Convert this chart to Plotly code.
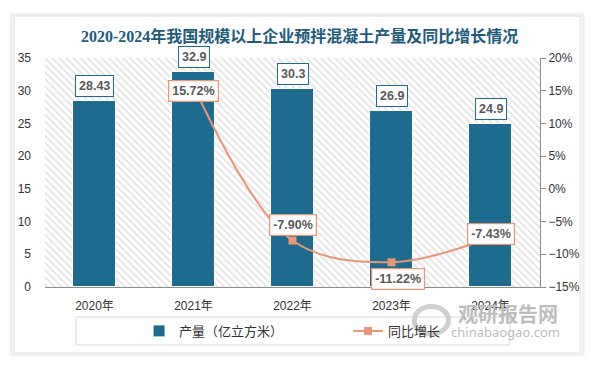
import plotly.graph_objects as go

years = ["2020年", "2021年", "2022年", "2023年", "2024年"]
output = [28.43, 32.9, 30.3, 26.9, 24.9]
growth = [None, 15.72, -7.90, -11.22, -7.43]
output_labels = ["28.43", "32.9", "30.3", "26.9", "24.9"]
growth_labels = [None, "15.72%", "-7.90%", "-11.22%", "-7.43%"]

title = "2020-2024年我国规模以上企业预拌混凝土产量及同比增长情况"
bar_name = "产量（亿立方米）"
line_name = "同比增长"

BAR = "#1D6B8E"
LINE = "#E8967A"
TXT = "#333333"
LBL = "#595959"
FONT = "Liberation Sans, Noto Sans CJK SC, sans-serif"

fig = go.Figure()

# hatched plot-area background
fig.add_trace(go.Bar(
    x=[years[2]], y=[35], width=[5], showlegend=False, hoverinfo="skip",
    marker=dict(color="white", line=dict(width=0),
                pattern=dict(shape="\\", fgcolor="#c2c2c2", bgcolor="white",
                             size=5, solidity=0.3)),
))

fig.add_trace(go.Bar(
    x=years, y=output, name=bar_name, width=0.43,
    marker=dict(color=BAR, line=dict(color="white", width=1)),
))

fig.add_trace(go.Scatter(
    x=years, y=growth, name=line_name, yaxis="y2",
    mode="lines+markers",
    line=dict(color=LINE, width=2, shape="spline", smoothing=1.0),
    marker=dict(symbol="square", size=8, color=LINE),
))

annotations = []
for x, v, t in zip(years, output, output_labels):
    annotations.append(dict(
        x=x, y=v, xref="x", yref="y", text=f"<b>{t}</b>", showarrow=False,
        yshift=15, font=dict(family=FONT, size=12.5, color=LBL),
        bgcolor="white", bordercolor=BAR, borderwidth=1, borderpad=3,
    ))

label_shift = [(0, 0), (0, -5), (0, 16), (6, -17), (0, 3)]
for x, v, t, (dx, dy) in zip(years, growth, growth_labels, label_shift):
    if v is None:
        continue
    annotations.append(dict(
        x=x, y=v, xref="x", yref="y2", text=f"<b>{t}</b>", showarrow=False,
        xshift=dx, yshift=dy, font=dict(family=FONT, size=12.5, color=LBL),
        bgcolor="white", bordercolor=LINE, borderwidth=1.2, borderpad=3,
    ))

annotations.append(dict(
    x=0.515, y=1.096, xref="paper", yref="paper", showarrow=False,
    xanchor="center", yanchor="middle",
    text=f"<b>{title}</b>",
    font=dict(family="Liberation Serif, Noto Sans CJK SC, serif", size=16, color="#1E5C7A"),
))
# watermark
annotations.append(dict(
    x=0.935, y=-0.114, xref="paper", yref="paper", showarrow=False,
    xanchor="center", yanchor="middle",
    text="<b>观研报告网</b>",
    font=dict(family="Noto Sans CJK SC", size=20, color="#bdbdbd"),
))
annotations.append(dict(
    x=0.931, y=-0.197, xref="paper", yref="paper", showarrow=False,
    xanchor="center", yanchor="middle",
    text="chinabaogao.com",
    font=dict(family="Noto Sans", size=13, color="#bdbdbd"),
))

shapes = [
    dict(type="rect", xref="paper", yref="paper", x0=-0.068, x1=1.087, y0=-0.295, y1=1.19,
         line=dict(color="#f0f0f0", width=3), fillcolor="rgba(0,0,0,0)", layer="below"),
    dict(type="rect", xref="paper", yref="paper", x0=-0.0626, x1=1.081, y0=-0.288, y1=1.183,
         line=dict(color="#e2e2e2", width=1), fillcolor="white", layer="below"),
    dict(type="rect", xref="paper", yref="paper", x0=0.0626, x1=0.939, y0=-0.253, y1=-0.131,
         line=dict(color="#d9d9d9", width=1), fillcolor="rgba(0,0,0,0)"),
    dict(type="circle", xref="paper", yref="paper", x0=0.746, x1=0.815, y0=-0.205, y1=-0.085,
         line=dict(color="#cfcfcf", width=5), fillcolor="rgba(0,0,0,0)"),
]

fig.update_layout(
    width=594, height=366,
    margin=dict(l=45, r=54, t=58, b=79, autoexpand=False),
    paper_bgcolor="white", plot_bgcolor="white",
    barmode="overlay", bargap=0,
    showlegend=True,
    legend=dict(orientation="h", x=0.19, xanchor="left", y=-0.192, yanchor="middle",
                font=dict(family=FONT, size=13, color=TXT),
                entrywidth=164, entrywidthmode="pixels",
                bgcolor="rgba(0,0,0,0)", itemclick=False),
    annotations=annotations, shapes=shapes,
    xaxis=dict(type="category", categoryorder="array", categoryarray=years,
               range=[-0.5, 4.5], showgrid=False, showline=True,
               linecolor="#8c8c8c", linewidth=1, ticks="", ticklabelstandoff=8,
               tickfont=dict(family=FONT, size=12, color=TXT)),
    yaxis=dict(range=[0, 35], dtick=5, showgrid=False, showline=False,
               zeroline=False, ticks="", ticklabelstandoff=13,
               tickfont=dict(family=FONT, size=12, color=TXT)),
    yaxis2=dict(overlaying="y", side="right", range=[-15, 20], dtick=5,
                ticksuffix="%", showgrid=False, zeroline=False,
                showline=True, linecolor="#8c8c8c", linewidth=1,
                ticks="outside", ticklen=5, tickcolor="#8c8c8c",
                tickfont=dict(family=FONT, size=12, color=TXT)),
)

fig.write_html("out.html", config={"displayModeBar": False},
               post_script="document.body.style.margin='0';")
